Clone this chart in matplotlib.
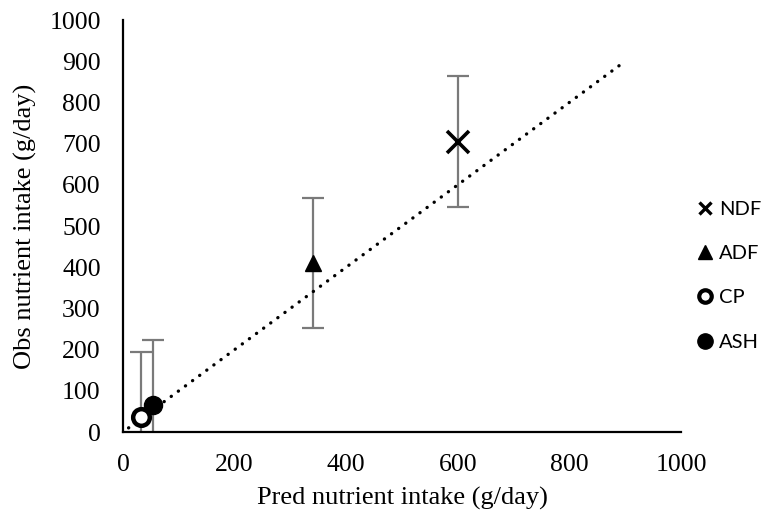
import matplotlib
matplotlib.use("Agg")
import matplotlib.pyplot as plt
from matplotlib.lines import Line2D

# data
nutrients = ["NDF", "ADF", "CP", "ASH"]
pred_intake = [600, 341, 32, 53]
obs_intake = [705, 410, 37, 65]
obs_err = [158, 158, 158, 158]
line_x = [10, 900]
line_y = [10, 900]
x_ticks = [0, 200, 400, 600, 800, 1000]
y_ticks = [0, 100, 200, 300, 400, 500, 600, 700, 800, 900, 1000]

serif = ["Liberation Serif", "DejaVu Serif"]
legend_font = ["Lato", "DejaVu Sans"]

marker_style = {
    "NDF": dict(marker="x", ms=16, mew=2.6, mfc="black", mec="black"),
    "ADF": dict(marker="^", ms=11, mew=1, mfc="black", mec="black"),
    "CP": dict(marker="o", ms=12, mew=3.2, mfc="white", mec="black"),
    "ASH": dict(marker="o", ms=13, mew=1, mfc="black", mec="black"),
}
legend_style = {
    "NDF": dict(marker="x", ms=9, mew=2.4, mfc="black", mec="black"),
    "ADF": dict(marker="^", ms=10, mew=1, mfc="black", mec="black"),
    "CP": dict(marker="o", ms=9, mew=3.0, mfc="white", mec="black"),
    "ASH": dict(marker="o", ms=11, mew=1, mfc="black", mec="black"),
}

fig = plt.figure(figsize=(7.63, 5.20), dpi=100)
ax = fig.add_axes([0.1612, 0.1692, 0.7313, 0.7923])

ax.plot(line_x, line_y, color="black", lw=2.4,
        linestyle=(0, (0.05, 2.6)), dash_capstyle="round", zorder=3)

for name, x, y, e in zip(nutrients, pred_intake, obs_intake, obs_err):
    ax.errorbar([x], [y], yerr=[e], fmt="none", ecolor="#7a7a7a",
                elinewidth=1.6, capsize=8, capthick=1.6, zorder=2)
    ax.plot([x], [y], linestyle="none", zorder=4, **marker_style[name])

ax.set_xlim(0, 1000)
ax.set_ylim(0, 1000)
ax.set_xticks(x_ticks)
ax.set_yticks(y_ticks)
ax.tick_params(length=0, labelsize=18.5)
ax.tick_params(axis="y", pad=16)
ax.tick_params(axis="x", pad=16)
for lab in ax.get_xticklabels() + ax.get_yticklabels():
    lab.set_family(serif)

for side in ["top", "right"]:
    ax.spines[side].set_visible(False)
for side in ["left", "bottom"]:
    ax.spines[side].set_linewidth(1.6)
    ax.spines[side].set_color("black")

ax.set_xlabel("Pred nutrient intake (g/day)", family=serif, fontsize=19,
              labelpad=8)
ax.set_ylabel("Obs nutrient intake (g/day)", family=serif, fontsize=19,
              labelpad=9)

handles = [Line2D([], [], linestyle="none", **legend_style[n]) for n in nutrients]
fig.legend(handles, nutrients, loc="center left",
           bbox_to_anchor=(0.903, 0.47), frameon=False,
           prop={"family": legend_font, "size": 14.5},
           handlelength=0.8, handletextpad=0.3, labelspacing=1.35,
           borderaxespad=0)

fig.savefig("out.png", dpi=100)
